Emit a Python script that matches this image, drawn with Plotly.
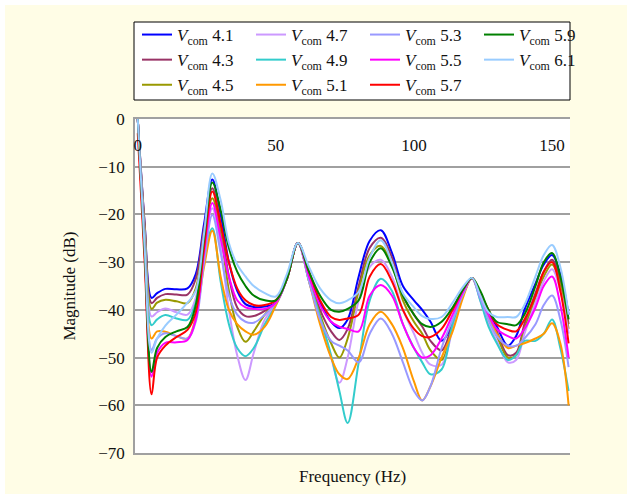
import plotly.graph_objects as go

freq = [0, 2.5, 5, 7, 10, 14, 18, 21, 24, 27, 30, 33, 36, 39, 42, 46, 50, 54, 58, 62,
        66, 70, 73, 76, 80, 84, 88, 92, 96, 100, 103, 106, 110, 114, 118, 121, 124, 127,
        130, 134, 137, 140, 144, 147, 150, 153, 156]

v41 = [0, -22, -37.5, -36.5, -35.6, -35.7, -35.5, -32.5, -22, -12.7, -20, -30, -36, -38.8, -39.4, -39.3, -38.5, -33.5, -26, -33,
       -38.5, -42.5, -43.8, -42, -33, -25.5, -23.3, -28, -35, -38, -40, -42.5, -46.5, -43, -36.5, -33.3, -36.5, -40.5,
       -43.5, -47.5, -45.5, -40, -34.5, -30.5, -28.5, -32.5, -41]
v43 = [0, -22, -38.6, -37.5, -36.7, -36.8, -36.8, -33.5, -23, -14.5, -22, -33, -39.5, -41.3, -41.3, -40.2, -38.5, -33.5, -26, -33,
       -40, -44.5, -46.3, -44, -35, -27, -24.9, -29, -37, -41, -43.5, -46.5, -48.5, -43, -36.5, -33.3, -37, -41,
       -44.5, -49.5, -49, -43, -36.5, -32, -29.5, -34, -43]
v45 = [0, -23, -39.8, -38.5, -37.9, -38.2, -38.6, -35.5, -25, -16.6, -24, -36, -43.5, -46.7, -44.5, -41, -38.5, -33.5, -26, -33,
       -41, -47, -50, -46, -36, -28.5, -26.6, -30.5, -38, -42.5, -45, -48.5, -50.5, -43.5, -36.5, -33.3, -37.5, -42,
       -45.5, -50, -49.5, -44, -37.5, -33, -30.5, -35, -44]
v47 = [0, -24, -41.4, -40.5, -39.7, -40.5, -41, -37.5, -27, -18.7, -27, -40, -49.5, -54.7, -49, -42, -39, -33.5, -26, -34,
       -42, -50, -55.3, -50, -38, -31, -29.5, -33, -40, -45, -49, -51.5, -51.5, -44, -36.5, -33.3, -38, -43,
       -46.5, -51, -50.5, -45, -38.5, -34, -31.5, -36, -45]
v49 = [0, -25, -43.2, -42, -41.1, -41.8, -42.1, -38.5, -29, -22.9, -34, -43, -48, -49.7, -48, -43, -39, -33.5, -26, -34,
       -41.5, -49.5, -57, -63.7, -51, -38, -33.5, -36, -43, -48, -51, -53.5, -52.5, -43, -36.5, -33.3, -38, -43.5,
       -47, -50.5, -49.5, -46.5, -46.5, -45, -42, -48, -57]
v51 = [0, -26, -46, -44.5, -44.6, -45.5, -46, -41.5, -31, -23.4, -33, -40, -43, -44.5, -45.2, -43.5, -39, -33.5, -26, -34,
       -43, -50, -53.5, -54.5, -50, -43, -40.4, -43, -48, -55, -59, -56, -50, -44.5, -37, -33.3, -37, -41.5,
       -45, -48, -47.5, -47, -46, -45, -42.8, -47, -60]
v53 = [0, -27, -48.4, -46, -44.9, -45.5, -46, -42.5, -30, -20.1, -28, -37, -41, -42.5, -42.7, -41, -38.5, -33.5, -26, -34,
       -42, -46.5, -47.5, -48.5, -51, -45, -41.8, -45, -51, -57, -59, -56, -48, -42, -36.5, -33.3, -37.5, -42,
       -45.5, -47.5, -47.5, -46, -43, -39, -37, -42, -52]
v55 = [0, -28, -54, -49, -46.9, -46.8, -46.3, -42, -28, -17.6, -25, -33, -38, -39.5, -39.8, -39.8, -38.5, -33.5, -26, -33,
       -39, -42.5, -43.5, -44, -44.5, -37, -34.8, -37, -43, -48, -50, -49.5, -46, -41, -36, -33.3, -37, -41,
       -44, -45.5, -46, -44, -39.5, -35, -33, -39, -50]
v57 = [-3, -30, -57.7, -50, -47.5, -45.7, -44.2, -40.5, -27, -15.2, -22, -30, -35.5, -38, -39, -39, -38, -33.5, -26, -32,
       -38, -41.5, -42.1, -41.8, -41, -33, -30.4, -34, -40, -44, -45.5, -45.7, -44, -40, -35.5, -33.3, -36.5, -40,
       -43, -44.2, -44.5, -42, -37, -32, -30, -36, -47]
v59 = [0, -28, -53, -48, -45.7, -44.5, -43.6, -39, -25, -13.3, -19, -27, -32, -35, -37, -38, -38, -33.5, -26, -32,
       -37, -40, -40.4, -39.8, -38, -30, -27.1, -31, -37, -41, -43, -43.6, -42.5, -39.5, -35.5, -33.3, -36, -40,
       -42.5, -43, -43.2, -41, -35, -30, -28.1, -33, -42]
v61 = [0, -27, -49, -46, -43.3, -41, -38.5, -36, -24, -11.4, -17, -26, -30.5, -33, -35, -36.5, -37.2, -32.5, -26, -31,
       -35.5, -38, -38.6, -38, -36.2, -29, -25.4, -30, -36.5, -39.5, -41.3, -41.9, -41.5, -38.5, -35, -33.3, -37, -40.5,
       -41.5, -41.5, -41.5, -39, -33, -28.5, -26.4, -31, -41]

labels = ["4.1", "4.3", "4.5", "4.7", "4.9", "5.1", "5.3", "5.5", "5.7", "5.9", "6.1"]
series = [v41, v43, v45, v47, v49, v51, v53, v55, v57, v59, v61]
colors = ["#0000FF", "#993366", "#999900", "#CC99FF", "#33CCCC", "#FF9900",
          "#9999FF", "#FF00FF", "#FF0000", "#008000", "#99CCFF"]
# legend is filled column by column in the reference (3 rows x 4 columns)
legend_rank = [1, 5, 9, 2, 6, 10, 3, 7, 11, 4, 8]
x_ticks = [0, 50, 100, 150]

fig = go.Figure()
for lab, vals, col, rk in zip(labels, series, colors, legend_rank):
    fig.add_trace(go.Scatter(
        x=freq, y=vals, mode="lines",
        line=dict(color=col, width=2, shape="spline", smoothing=1.0),
        name="<i>V</i><sub>com</sub> " + lab,
        legendrank=rk,
    ))

W, H = 632, 499
L, R, T, B = 135, 62, 119, 46
pw, ph = W - L - R, H - T - B

def px(x):
    return (x - L) / pw

def py(y):
    return (H - B - y) / ph

serif = "Liberation Serif, Times New Roman, serif"
grid = "#A0A0A0"
txt = "#111111"
xr = [-1, 156.5]

fig.update_layout(
    width=W, height=H,
    margin=dict(l=L, r=R, t=T, b=B, pad=0, autoexpand=False),
    paper_bgcolor="white",
    plot_bgcolor="white",
    font=dict(family=serif, size=16, color=txt),
    showlegend=True,
    legend=dict(
        orientation="h",
        x=px(593), xanchor="right",
        y=py(17), yanchor="top",
        bgcolor="rgba(0,0,0,0)",
        borderwidth=0,
        entrywidth=69,
        font=dict(family=serif, size=17, color=txt),
        traceorder="normal",
    ),
    xaxis=dict(
        range=xr,
        tickvals=x_ticks,
        showticklabels=False,
        ticks="",
        showgrid=False,
        zeroline=False,
        automargin=False,
        showline=True, mirror=True, linecolor=grid, linewidth=1.5,
    ),
    xaxis2=dict(
        overlaying="x", anchor="free", position=1, side="bottom",
        range=xr,
        tickvals=x_ticks,
        ticks="",
        showgrid=False, zeroline=False, showline=False,
        automargin=False,
        tickfont=dict(family=serif, size=17, color=txt),
        ticklabelstandoff=14,
    ),
    yaxis=dict(
        range=[-70, 0],
        dtick=10,
        ticks="",
        showgrid=True, gridcolor=grid, gridwidth=1.5,
        zeroline=False,
        automargin=False,
        showline=True, linecolor=grid, linewidth=1.5,
        tickfont=dict(family=serif, size=17, color=txt),
        ticklabelstandoff=5,
        title=dict(text="Magnitude (dB)", font=dict(family=serif, size=17, color=txt),
                   standoff=18),
    ),
    shapes=[
        dict(type="rect", xref="paper", yref="paper", layer="below",
             x0=px(5), x1=px(627), y0=py(494), y1=py(5),
             fillcolor="#FFFDE6", line=dict(width=0)),
        dict(type="rect", xref="paper", yref="paper", layer="below",
             x0=0, x1=1, y0=0, y1=1,
             fillcolor="white", line=dict(width=0)),
        dict(type="rect", xref="paper", yref="paper", layer="below",
             x0=px(134), x1=px(570), y0=py(100), y1=py(22),
             fillcolor="white", line=dict(color="black", width=1)),
    ],
    annotations=[
        dict(text="Frequency (Hz)", xref="paper", yref="paper",
             x=0.5, y=py(477), xanchor="center", yanchor="middle",
             showarrow=False, font=dict(family=serif, size=17, color=txt)),
    ],
)

# invisible helper trace so the top tick-label axis is drawn
fig.add_trace(go.Scatter(x=[xr[0]], y=[None], xaxis="x2", yaxis="y",
                         mode="lines", showlegend=False, hoverinfo="skip"))

fig.write_html("out.html",
               config={"displayModeBar": False},
               post_script="document.body.style.margin='0px';document.body.style.padding='0px';")
